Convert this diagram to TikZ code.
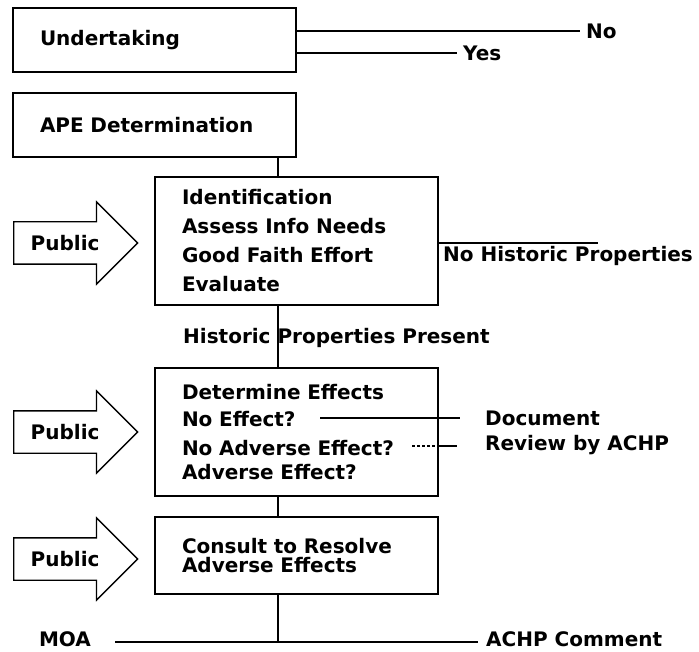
\documentclass[tikz,border=0pt]{standalone}
\usepackage{fontspec}
\setmainfont{DejaVu Sans}
\usepackage{tikz}
\usetikzlibrary{shapes.arrows}
\usetikzlibrary{positioning}
\tikzset{
    stepbox/.style = {rectangle, draw=black, line width=1.3pt, align=left, text width=229pt, inner xsep=27pt, inner ysep=0pt},
    publicarrow/.style = {single arrow, draw=black, line width=1.3pt, single arrow head extend=20pt, single arrow tip angle=90, minimum height=124pt, text height=15pt, text depth=0pt, inner ysep=13pt, inner xsep=9pt, anchor=tail},
    lbl/.style = {inner sep=0pt, anchor=west, align=left},
    edgen/.style = {-, line width=1.3pt},
}
\begin{document}
\begin{tikzpicture}[
	x=1pt, y=-1pt,
	font=\fontsize{20}{24}\selectfont\bfseries
]
\useasboundingbox (0,0) rectangle (699,652);
\coordinate (spine) at (278,0);
%
\node[stepbox, minimum height=64pt] at (154.5,40) (under) {Undertaking};
\node[stepbox, minimum height=64pt] at (154.5,125) (ape) {APE Determination};
\node[stepbox, minimum height=128pt] at (296.5,241) (ident) {Identification\\[5pt]Assess Info Needs\\[5pt]Good Faith Effort\\[5pt]Evaluate};
\node[stepbox, minimum height=128pt] at (296.5,432) (effects) {Determine Effects\\[3pt]No Effect?\\[5pt]No Adverse Effect?\\Adverse Effect?};
\node[stepbox, minimum height=77pt] at (296.5,555.5) (consult) {Consult to Resolve\\[-5pt]Adverse Effects};
%
\node[publicarrow] at (13,243) (pub1) {Public};
\node[publicarrow] at (13,432) (pub2) {Public};
\node[publicarrow] at (13,559) (pub3) {Public};
%
\node[lbl] at (586,31) (no) {No};
\node[lbl] at (463,53) (yes) {Yes};
\node[lbl] at (443,256) (nohist) {No Historic Properties};
\node[lbl] at (183,338) (present) {Historic Properties Present};
\node[lbl] at (485,433) (doc) {Document\\[1pt]Review by ACHP};
\node[inner sep=0pt] at (65,639) (moa) {MOA};
\node[lbl] at (486,639) (comment) {ACHP Comment};
%
\coordinate (nh) at (598,243);
\coordinate (ne1) at (320,418);
\coordinate (ne2) at (460,418);
\coordinate (na1) at (412,446);
\coordinate (na2) at (457,446);
\coordinate (bl) at (115,642);
\coordinate (br) at (478,642);
%
\draw[edgen] (under.east |- no.west) -- ([xshift=-6pt]no.west);
\draw[edgen] (under.east |- yes.west) -- ([xshift=-6pt]yes.west);
\draw[edgen] (ape.south -| spine) -- (ident.north -| spine);
\draw[edgen] (ident.east |- nh) -- (nh);
\draw[edgen] (ident.south -| spine) -- (effects.north -| spine);
\draw[edgen] (ne1) -- (ne2);
\draw[edgen, dash pattern=on 3pt off 2pt] (na1) -- (effects.east |- na1);
\draw[edgen] (effects.east |- na1) -- (na2);
\draw[edgen] (effects.south -| spine) -- (consult.north -| spine);
\draw[edgen] (consult.south -| spine) -- (bl -| spine);
\draw[edgen] (bl) -- (br);
\end{tikzpicture}
\end{document}
